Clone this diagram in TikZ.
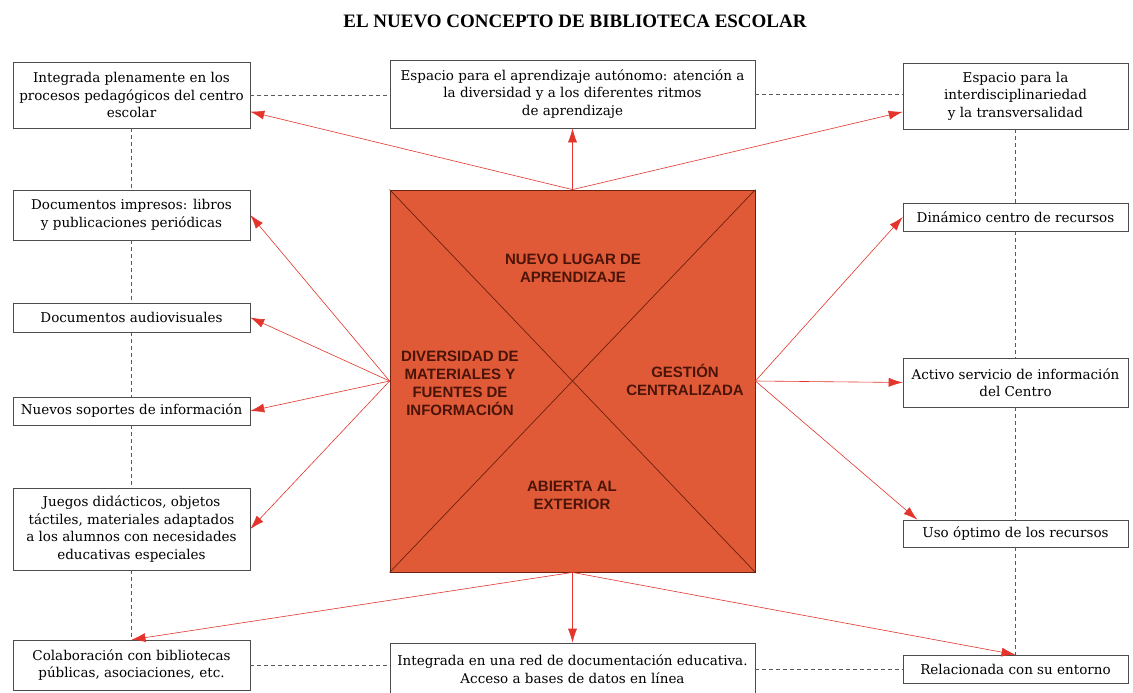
\documentclass[tikz,border=0pt]{standalone}
\usepackage{fontspec}
\setmainfont{DejaVu Serif}
\newfontfamily\cuadrofont{Liberation Sans}
\newfontfamily\titulofont{Liberation Serif}
\usetikzlibrary{arrows.meta}
\definecolor{naranja}{HTML}{E05A37}
\definecolor{borde}{HTML}{6B2010}
\definecolor{rojo}{HTML}{E3352B}
\definecolor{letra}{HTML}{4A1408}

\begin{document}
\begin{tikzpicture}[x=1pt,y=-1pt,
    caja/.style={draw=black!70, line width=0.6pt, fill=white, align=center, inner sep=2pt,
        font=\fontsize{13.5}{17.5}\selectfont},
    cuadro/.style={draw=borde, line width=0.8pt, fill=naranja, minimum width=365pt,
        minimum height=382pt, inner sep=0pt},
    etiqueta/.style={align=center, text=letra, font=\cuadrofont\bfseries\fontsize{15}{18}\selectfont},
    flecha/.style={draw=rojo, line width=0.6pt, -{Latex[length=14pt,width=9pt]}},
    enlace/.style={draw=black!65, line width=0.6pt, dash pattern=on 4pt off 3pt}]
    \useasboundingbox[fill=white] (0,0) rectangle (1133,693);

    \node[font=\titulofont\bfseries\fontsize{19}{22}\selectfont] (titulo) at (575,21)
        {EL NUEVO CONCEPTO DE BIBLIOTECA ESCOLAR};

    \node[cuadro] (sq) at (572.5,381) {};
    \draw[borde, line width=0.7pt] (sq.north west) -- (sq.south east);
    \draw[borde, line width=0.7pt] (sq.north east) -- (sq.south west);
    \node[etiqueta] (lugar) at (573,268) {NUEVO LUGAR DE\\APRENDIZAJE};
    \node[etiqueta] (diversidad) at (460,383) {DIVERSIDAD DE\\MATERIALES Y\\FUENTES DE\\INFORMACIÓN};
    \node[etiqueta] (gestion) at (685,380) {GESTIÓN\\CENTRALIZADA};
    \node[etiqueta] (abierta) at (572,495) {ABIERTA AL\\EXTERIOR};

    \node[caja, minimum width=237pt, minimum height=66pt] (integrada) at (131.5,95)
        {Integrada plenamente en los\\procesos pedagógicos del centro\\escolar};
    \node[caja, minimum width=365pt, minimum height=68pt] (autonomo) at (572.5,94)
        {Espacio para el aprendizaje autónomo: atención a\\la diversidad y a los diferentes ritmos\\de aprendizaje};
    \node[caja, minimum width=225pt, minimum height=66pt] (interdisc) at (1015.5,96)
        {Espacio para la\\interdisciplinariedad\\y la transversalidad};

    \node[caja, minimum width=237pt, minimum height=50pt] (impresos) at (131.5,215)
        {Documentos impresos: libros\\y publicaciones periódicas};
    \node[caja, minimum width=237pt, minimum height=29pt] (audiovis) at (131.5,317.5)
        {Documentos audiovisuales};
    \node[caja, minimum width=237pt, minimum height=28pt] (soportes) at (131.5,411)
        {Nuevos soportes de información};
    \node[caja, minimum width=237pt, minimum height=82pt] (juegos) at (131.5,529)
        {Juegos didácticos, objetos\\táctiles, materiales adaptados\\a los alumnos con necesidades\\educativas especiales};

    \node[caja, minimum width=225pt, minimum height=28pt] (dinamico) at (1015.5,217)
        {Dinámico centro de recursos};
    \node[caja, minimum width=225pt, minimum height=49pt] (activo) at (1015.5,382.5)
        {Activo servicio de información\\del Centro};
    \node[caja, minimum width=225pt, minimum height=27pt] (optimo) at (1015.5,533.5)
        {Uso óptimo de los recursos};

    \node[caja, minimum width=237pt, minimum height=50pt] (colabora) at (131.5,665)
        {Colaboración con bibliotecas\\públicas, asociaciones, etc.};
    \node[caja, minimum width=365pt, minimum height=52pt] (red) at (572.5,669)
        {Integrada en una red de documentación educativa.\\Acceso a bases de datos en línea};
    \node[caja, minimum width=225pt, minimum height=28pt] (entorno) at (1015.5,669)
        {Relacionada con su entorno};

    \draw[enlace] (integrada.east) -- (integrada.east -| autonomo.west);
    \draw[enlace] (autonomo.east) -- (autonomo.east -| interdisc.west);
    \draw[enlace] (colabora.east) -- (colabora.east -| red.west);
    \draw[enlace] (red.east) -- (red.east -| entorno.west);
    \draw[enlace] (integrada.south) -- (impresos.north);
    \draw[enlace] (impresos.south) -- (audiovis.north);
    \draw[enlace] (audiovis.south) -- (soportes.north);
    \draw[enlace] (soportes.south) -- (juegos.north);
    \draw[enlace] (juegos.south) -- (colabora.north);
    \draw[enlace] (interdisc.south) -- (dinamico.north);
    \draw[enlace] (dinamico.south) -- (activo.north);
    \draw[enlace] (activo.south) -- (optimo.north);
    \draw[enlace] (optimo.south) -- (entorno.north);

    \draw[flecha] (sq.north) -- (integrada.-8);
    \draw[flecha] (sq.north) -- (autonomo.south);
    \draw[flecha] (sq.north) -- (interdisc.188);
    \draw[flecha] (sq.west) -- (impresos.east);
    \draw[flecha] (sq.west) -- (audiovis.east);
    \draw[flecha] (sq.west) -- (soportes.east);
    \draw[flecha] (sq.west) -- (juegos.east);
    \draw[flecha] (sq.east) -- (dinamico.west);
    \draw[flecha] (sq.east) -- (activo.west);
    \draw[flecha] (sq.east) -- (optimo.172);
    \draw[flecha] (sq.south) -- (colabora.north);
    \draw[flecha] (sq.south) -- (red.north);
    \draw[flecha] (sq.south) -- (entorno.north);
\end{tikzpicture}
\end{document}
